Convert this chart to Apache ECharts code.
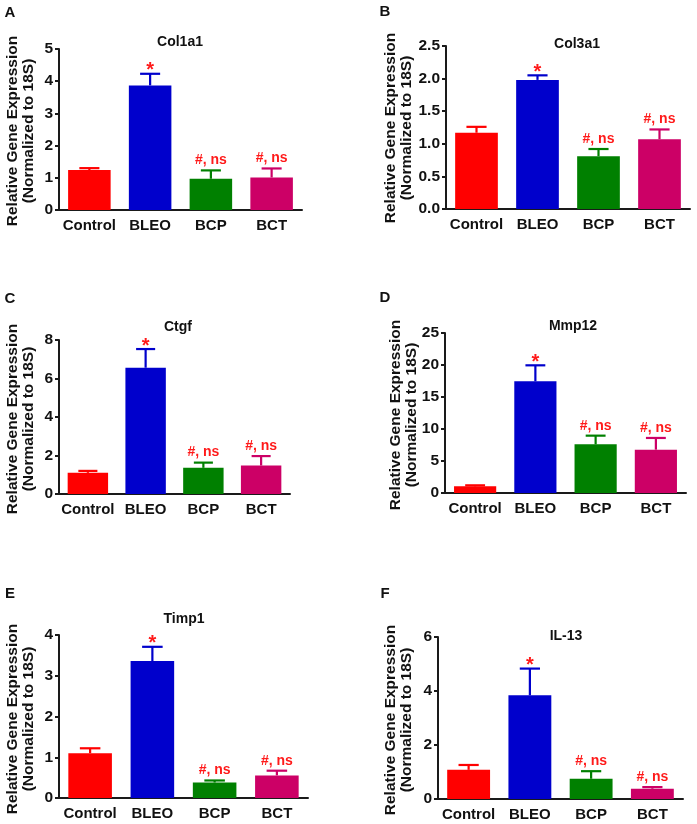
<!DOCTYPE html>
<html>
<head>
<meta charset="utf-8">
<script src="https://cdn.jsdelivr.net/npm/echarts@6/dist/echarts.min.js"></script>
<style>
html,body{margin:0;padding:0;background:#fff;}
#chart{width:697px;height:824px;}
</style>
</head>
<body>
<div id="chart"></div>
<script>
// ---- data ----
const categories = ['Control', 'BLEO', 'BCP', 'BCT'];
const genes = ['Col1a1', 'Col3a1', 'Ctgf', 'Mmp12', 'Timp1', 'IL-13'];
const panelLetters = ['A', 'B', 'C', 'D', 'E', 'F'];
const annotations = ['', '*', '#, ns', '#, ns'];

const col1a1Mean = [1.24, 3.87, 0.97, 1.01];
const col1a1Sem  = [0.06, 0.36, 0.26, 0.28];
const col3a1Mean = [1.17, 1.98, 0.81, 1.07];
const col3a1Sem  = [0.09, 0.07, 0.11, 0.15];
const ctgfMean   = [1.10, 6.56, 1.36, 1.48];
const ctgfSem    = [0.10, 0.97, 0.27, 0.49];
const mmp12Mean  = [1.04, 17.45, 7.60, 6.77];
const mmp12Sem   = [0.16, 2.50, 1.36, 1.83];
const timp1Mean  = [1.10, 3.36, 0.38, 0.555];
const timp1Sem   = [0.12, 0.35, 0.05, 0.115];
const il13Mean   = [1.08, 3.84, 0.75, 0.38];
const il13Sem    = [0.18, 0.99, 0.28, 0.06];

const yMax       = [5, 2.5, 8, 25, 4, 6];
const yInterval  = [1, 0.5, 2, 5, 1, 2];
const yDecimals  = [0, 1, 0, 0, 0, 0];

const means = [col1a1Mean, col3a1Mean, ctgfMean, mmp12Mean, timp1Mean, il13Mean];
const sems  = [col1a1Sem, col3a1Sem, ctgfSem, mmp12Sem, timp1Sem, il13Sem];

// ---- styles / layout ----
const barColors = ['#FF0000', '#0000CC', '#008000', '#CC0066'];
const FONT = '"Liberation Sans", Arial, Helvetica, sans-serif';
const grids = [
  {left: 59,  top: 49,  width: 243, height: 161},
  {left: 446, top: 46,  width: 244, height: 163},
  {left: 59,  top: 340, width: 231, height: 154},
  {left: 445, top: 333, width: 241, height: 160},
  {left: 59,  top: 635, width: 249, height: 163},
  {left: 438, top: 637, width: 245, height: 162}
];
const geneTitlePos = [[180, 42], [577, 44], [178, 327], [573, 326], [184, 619], [566, 636]];
const letterPos = [[10, 13], [385, 12], [10, 299], [385, 298], [10, 594], [385, 594]];
const yTitlePos = [[21, 131], [399, 128], [21, 419], [404, 415], [21, 719], [399, 720]];

const chart = echarts.init(document.getElementById('chart'), null, {renderer: 'canvas'});

const xAxes = [], yAxes = [], series = [], graphics = [];
for (let i = 0; i < 6; i++) {
  xAxes.push({
    type: 'category', gridIndex: i, data: categories,
    axisLine: {lineStyle: {color: '#1a1a1a', width: 2}},
    axisTick: {alignWithLabel: true, length: 5, lineStyle: {color: '#1a1a1a', width: 2}},
    axisLabel: {color: '#111', fontWeight: 'bold', fontSize: 15, fontFamily: FONT, margin: 8, interval: 0}
  });
  const dec = yDecimals[i];
  yAxes.push({
    type: 'value', gridIndex: i, min: 0, max: yMax[i], interval: yInterval[i],
    axisLine: {show: true, lineStyle: {color: '#1a1a1a', width: 2}},
    axisTick: {show: true, length: 4, lineStyle: {color: '#1a1a1a', width: 2}},
    splitLine: {show: false},
    axisLabel: {color: '#111', fontWeight: 'bold', fontSize: 15.5, fontFamily: FONT, margin: 6,
      formatter: v => v.toFixed(dec)}
  });
  series.push({
    type: 'bar', xAxisIndex: i, yAxisIndex: i, barWidth: '70%',
    data: means[i].map((v, k) => ({value: v, itemStyle: {color: barColors[k]}})),
    z: 2
  });
  const errData = means[i].map((v, k) => [k, v, v + sems[i][k]]);
  series.push({
    type: 'custom', xAxisIndex: i, yAxisIndex: i, z: 3,
    encode: {x: 0, y: [1, 2]},
    data: errData,
    renderItem: function (params, api) {
      const k = api.value(0);
      const base = api.coord([k, api.value(1)]);
      const top = api.coord([k, api.value(2)]);
      const catW = api.size([1, 0])[0];
      const half = catW * 0.165;
      const col = barColors[params.dataIndex];
      const ann = annotations[params.dataIndex];
      const children = [
        {type: 'line', shape: {x1: top[0], y1: base[1], x2: top[0], y2: top[1]}, style: {stroke: col, lineWidth: 2.2}},
        {type: 'line', shape: {x1: top[0] - half, y1: top[1], x2: top[0] + half, y2: top[1]}, style: {stroke: col, lineWidth: 2.2}}
      ];
      if (ann === '*') {
        children.push({type: 'text', x: top[0], y: top[1] - 3,
          style: {text: ann, fill: '#FF1A1A', font: 'bold 20px ' + FONT, align: 'center', verticalAlign: 'middle',
                  textAlign: 'center', textVerticalAlign: 'middle'}});
      } else if (ann) {
        children.push({type: 'text', x: top[0], y: top[1] - 3,
          style: {text: ann, fill: '#FF1A1A', font: 'bold 14px ' + FONT, align: 'center', verticalAlign: 'bottom',
                  textAlign: 'center', textVerticalAlign: 'bottom'}});
      }
      return {type: 'group', children: children};
    }
  });
  graphics.push({
    type: 'text', x: geneTitlePos[i][0], y: geneTitlePos[i][1],
    style: {text: genes[i], fill: '#111', font: 'bold 14px ' + FONT, align: 'center', verticalAlign: 'middle',
            textAlign: 'center', textVerticalAlign: 'middle'}
  });
  graphics.push({
    type: 'text', x: letterPos[i][0], y: letterPos[i][1],
    style: {text: panelLetters[i], fill: '#111', font: 'bold 15px ' + FONT, align: 'center', verticalAlign: 'middle',
            textAlign: 'center', textVerticalAlign: 'middle'}
  });
  graphics.push({
    type: 'text', x: yTitlePos[i][0], y: yTitlePos[i][1], rotation: Math.PI / 2,
    style: {text: 'Relative Gene Expression\n(Normalized to 18S)', fill: '#111', font: 'bold 15.5px ' + FONT,
            lineHeight: 16, align: 'center', verticalAlign: 'middle', textAlign: 'center', textVerticalAlign: 'middle'}
  });
}

chart.setOption({
  animation: false,
  backgroundColor: '#fff',
  grid: grids,
  xAxis: xAxes,
  yAxis: yAxes,
  series: series,
  graphic: graphics
});
</script>
</body>
</html>
